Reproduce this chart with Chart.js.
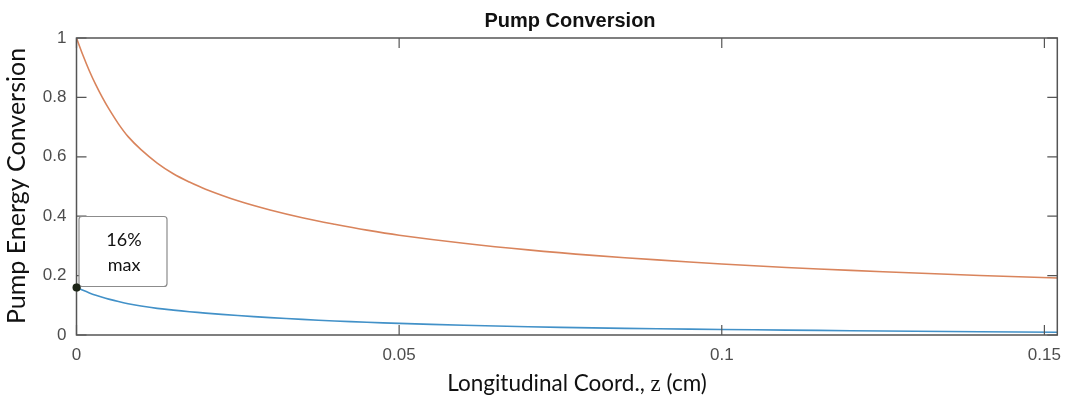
<!DOCTYPE html>
<html>
<head>
<meta charset="utf-8">
<script src="https://cdn.jsdelivr.net/npm/chart.js@4.4.1/dist/chart.umd.min.js"></script>
<style>
  html, body { margin:0; padding:0; background:#fff; }
  #wrap { width:1071px; height:397px; position:relative; }
</style>
</head>
<body>
<div id="wrap"><canvas id="pumpChart" width="1071" height="397"></canvas></div>
<script>
// z positions (cm)
const zCoord = [0, 0.001, 0.002, 0.003, 0.004, 0.005, 0.0065, 0.008, 0.01, 0.0125, 0.015, 0.0175, 0.02, 0.025, 0.03, 0.035, 0.04, 0.045, 0.05, 0.06, 0.07, 0.08, 0.09, 0.1, 0.11, 0.12, 0.13, 0.14, 0.152];
// upper (orange) curve
const upperConv = [1, 0.942, 0.889, 0.842, 0.800, 0.762, 0.711, 0.668, 0.624, 0.579, 0.543, 0.515, 0.491, 0.452, 0.421, 0.395, 0.373, 0.353, 0.336, 0.309, 0.2865, 0.268, 0.253, 0.239, 0.2275, 0.2175, 0.2085, 0.2005, 0.192];
// lower (blue) curve
const lowerConv = [0.16, 0.1505, 0.1418, 0.134, 0.127, 0.1208, 0.1126, 0.1055, 0.0975, 0.0895, 0.0838, 0.0785, 0.0738, 0.0655, 0.0585, 0.0525, 0.0473, 0.0428, 0.039, 0.0328, 0.0278, 0.024, 0.0211, 0.0187, 0.0165, 0.0145, 0.0127, 0.011, 0.0092];

const xTicks = [0, 0.05, 0.1, 0.15];
const yTicks = [0, 0.2, 0.4, 0.6, 0.8, 1];
const xRange = [0, 0.152];
const yRange = [0, 1];

const titleText = 'Pump Conversion';
const yTitle = 'Pump Energy Conversion';
const xTitleParts = ['Longitudinal Coord., ', 'z', ' (cm)'];
const noteLines = ['16%', 'max'];

const AXIS = '#555555';
const TICK_FONT = { family: 'Liberation Sans, Arial, sans-serif', size: 17 };

// frame, inward ticks, titles and the "16% max" note
const matlabLook = {
  id: 'matlabLook',
  afterDraw(chart) {
    const { ctx, chartArea: a, scales } = chart;
    const xs = scales.x, ys = scales.y;
    ctx.save();
    ctx.strokeStyle = AXIS;
    ctx.lineWidth = 1.5;
    ctx.strokeRect(a.left, a.top, a.right - a.left, a.bottom - a.top);
    ctx.lineWidth = 1.2;
    ctx.beginPath();
    xTicks.forEach(v => {
      const px = xs.getPixelForValue(v);
      ctx.moveTo(px, a.bottom); ctx.lineTo(px, a.bottom - 10);
      ctx.moveTo(px, a.top); ctx.lineTo(px, a.top + 10);
    });
    yTicks.forEach(v => {
      const py = ys.getPixelForValue(v);
      ctx.moveTo(a.left, py); ctx.lineTo(a.left + 10, py);
      ctx.moveTo(a.right, py); ctx.lineTo(a.right - 10, py);
    });
    ctx.stroke();

    // title
    ctx.fillStyle = '#111';
    ctx.font = 'bold 20px "Liberation Sans", Arial, sans-serif';
    ctx.textAlign = 'center';
    ctx.textBaseline = 'alphabetic';
    ctx.fillText(titleText, 570, 27);

    // y title
    ctx.save();
    ctx.translate(25, 186);
    ctx.rotate(-Math.PI / 2);
    ctx.font = '25px Lato, "Open Sans", sans-serif';
    ctx.fillStyle = '#111';
    ctx.fillText(yTitle, 0, 0);
    ctx.restore();

    // x title (z in a serif face)
    const fonts = ['22.5px Lato, sans-serif', '23px "Liberation Serif", serif', '22.5px Lato, sans-serif'];
    let total = 0;
    const widths = xTitleParts.map((t, i) => { ctx.font = fonts[i]; const w = ctx.measureText(t).width; total += w; return w; });
    let x = 577 - total / 2;
    ctx.textAlign = 'left';
    xTitleParts.forEach((t, i) => { ctx.font = fonts[i]; ctx.fillText(t, x, 391); x += widths[i]; });

    // note box anchored to the first blue point
    const px = xs.getPixelForValue(zCoord[0]);
    const py = ys.getPixelForValue(lowerConv[0]);
    const bx = px + 2.5, by = py - 71, bw = 88, bh = 70;
    ctx.fillStyle = '#fff';
    ctx.strokeStyle = '#8c8c8c';
    ctx.lineWidth = 1.2;
    ctx.beginPath();
    ctx.roundRect(bx, by, bw, bh, 3);
    ctx.fill();
    ctx.stroke();
    ctx.fillStyle = '#111';
    ctx.font = '18px Lato, sans-serif';
    ctx.textAlign = 'center';
    ctx.fillText(noteLines[0], bx + 45, by + 30);
    ctx.fillText(noteLines[1], bx + 45, by + 55);

    // redraw the marker on top of the frame
    ctx.fillStyle = '#1c2416';
    ctx.beginPath();
    ctx.arc(px, py, 4, 0, Math.PI * 2);
    ctx.fill();
    ctx.restore();
  }
};

new Chart(document.getElementById('pumpChart'), {
  type: 'line',
  data: {
    datasets: [
      {
        label: 'upper',
        data: zCoord.map((z, i) => ({ x: z, y: upperConv[i] })),
        borderColor: '#d9845c',
        borderWidth: 1.6,
        pointRadius: 0,
        tension: 0.35,
        fill: false
      },
      {
        label: 'lower',
        data: zCoord.map((z, i) => ({ x: z, y: lowerConv[i] })),
        borderColor: '#4291c8',
        borderWidth: 1.6,
        pointRadius: c => c.dataIndex === 0 ? 4 : 0,
        pointBackgroundColor: '#1c2416',
        pointBorderWidth: 0,
        tension: 0.35,
        fill: false
      }
    ]
  },
  options: {
    responsive: false,
    animation: false,
    events: [],
    layout: { padding: { top: 38, right: 4.5, left: 0, bottom: 0 } },
    plugins: { legend: { display: false }, title: { display: false }, tooltip: { enabled: false } },
    scales: {
      x: {
        type: 'linear',
        min: xRange[0], max: xRange[1],
        afterBuildTicks: s => { s.ticks = xTicks.map(v => ({ value: v })); },
        afterFit: s => { s.height = 62; },
        grid: { display: false, drawTicks: false },
        border: { display: false },
        ticks: { font: TICK_FONT, color: '#4d4d4d', padding: 10, callback: v => String(v), maxRotation: 0 }
      },
      y: {
        type: 'linear',
        min: yRange[0], max: yRange[1],
        afterBuildTicks: s => { s.ticks = yTicks.map(v => ({ value: v })); },
        afterFit: s => { s.width = 76.5; },
        grid: { display: false, drawTicks: false },
        border: { display: false },
        ticks: { font: TICK_FONT, color: '#4d4d4d', padding: 10, callback: v => String(+v.toFixed(2)) }
      }
    }
  },
  plugins: [matlabLook]
});
</script>
</body>
</html>
